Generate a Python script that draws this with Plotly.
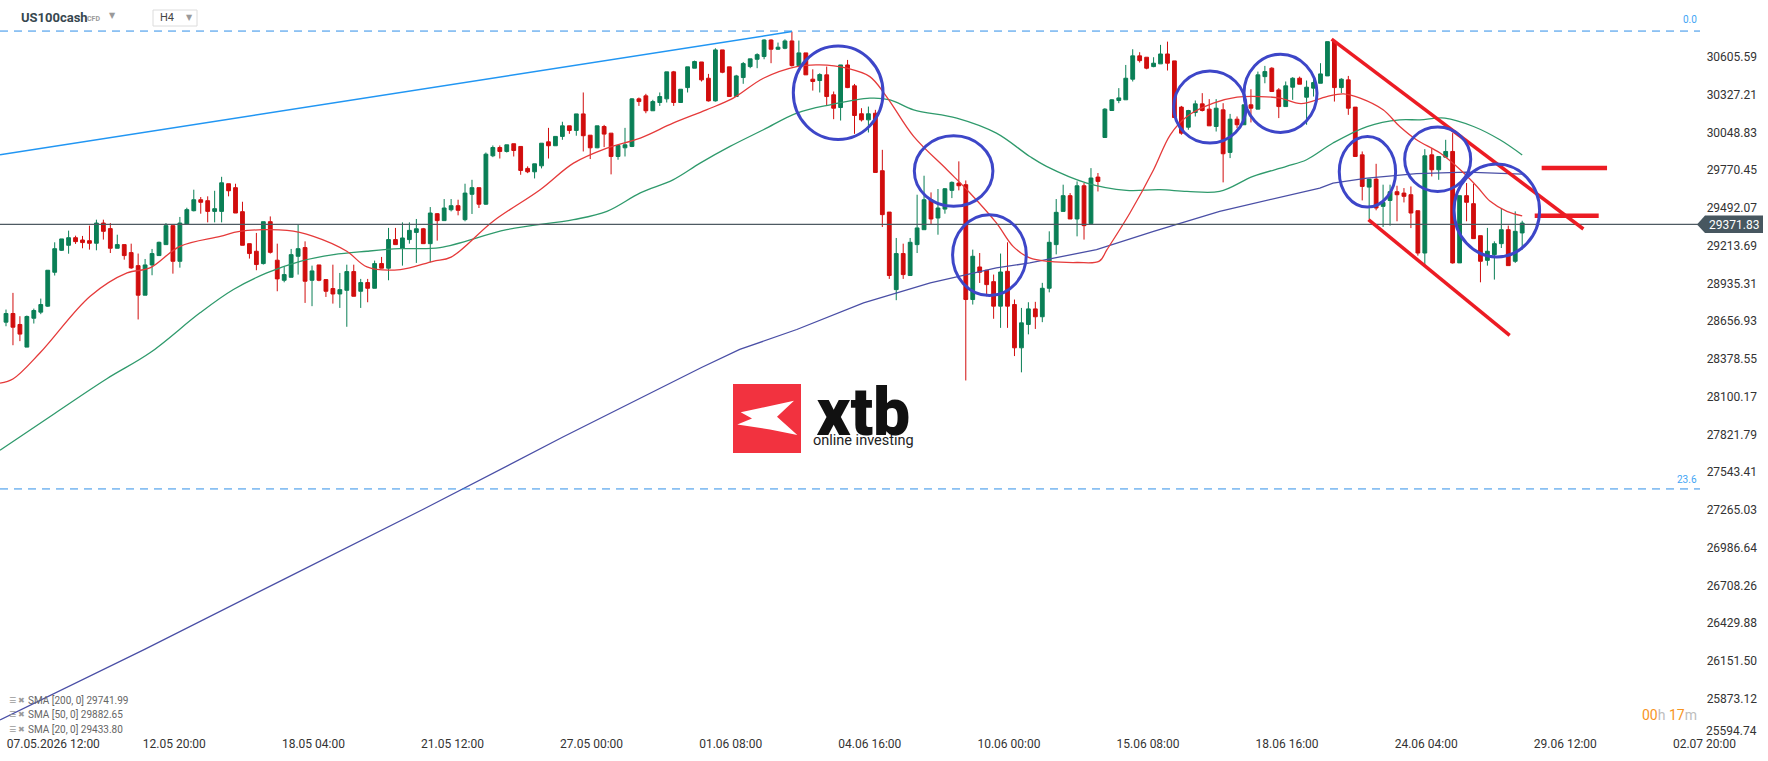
import plotly.graph_objects as go

W, H = 1768, 761

def px(x):
    return x / W

def py(y):
    return 1 - y / H

# ---------------- data ----------------
opens = [28650, 28714, 28633, 28466, 28679, 28724, 28768, 29018, 29180, 29217,
         29273, 29256, 29251, 29232, 29381, 29340, 29195, 29222, 29163, 29067,
         28849, 29072, 29141, 29222, 29362, 29099, 29374, 29472, 29553, 29546,
         29467, 29467, 29671, 29642, 29465, 29229, 29173, 29082, 29391, 29107,
         28959, 28981, 29136, 29200, 28959, 29072, 28964, 28898, 28858, 28885,
         29023, 28878, 28942, 28900, 29082, 29048, 29259, 29197, 29259, 29312,
         29339, 29229, 29450, 29399, 29479, 29509, 29406, 29593, 29642, 29520,
         29877, 29938, 29909, 29966, 29946, 29784, 29759, 29803, 29980, 29951,
         30020, 30098, 30064, 30186, 30029, 29936, 30093, 30044, 29872, 29936,
         29946, 30297, 30319, 30209, 30270, 30297, 30496, 30270, 30380, 30523,
         30569, 30449, 30282, 30658, 30533, 30314, 30454, 30535, 30589, 30609,
         30731, 30663, 30670, 30724, 30542, 30636, 30442, 30432, 30474, 30327,
         30233, 30547, 30393, 30187, 30142, 30191, 29767, 29462, 28890, 29156,
         28994, 29222, 29332, 29553, 29418, 29484, 29622, 29676, 29664, 28817,
         29057, 29033, 28949, 28768, 29025, 28780, 28461, 28633, 28748, 28690,
         28900, 29222, 29467, 29583, 29411, 29656, 29377, 29720, 30012, 30211,
         30285, 30290, 30442, 30614, 30604, 30535, 30555, 30628, 30577, 30236,
         30088, 30196, 30260, 30221, 30093, 30216, 29902, 30147, 30106, 30253,
         30221, 30461, 30523, 30363, 30240, 30383, 30449, 30309, 30376, 30412,
         30466, 30719, 30380, 30437, 30236, 29884, 29646, 29705, 29504, 29548,
         29612, 29602, 29590, 29472, 29160, 29884, 29774, 29867, 29909, 29087,
         29583, 29524, 29288, 29106, 29148, 29229, 29332, 29099, 29308]
highs = [28743, 28866, 28694, 28699, 28750, 28824, 29033, 29239, 29264, 29325,
         29288, 29286, 29362, 29406, 29406, 29381, 29295, 29222, 29229, 29156,
         29116, 29190, 29244, 29381, 29362, 29426, 29494, 29627, 29573, 29578,
         29619, 29722, 29671, 29671, 29538, 29229, 29308, 29391, 29430, 29229,
         29062, 29190, 29369, 29246, 29067, 29072, 28964, 29074, 29013, 29074,
         29074, 28969, 28969, 29104, 29131, 29345, 29345, 29386, 29386, 29411,
         29345, 29499, 29455, 29558, 29558, 29553, 29671, 29700, 29642, 29901,
         29953, 29953, 29958, 29966, 29946, 29799, 29818, 29970, 30083, 30020,
         30128, 30098, 30186, 30344, 30029, 30098, 30105, 30044, 29958, 30083,
         30302, 30307, 30334, 30290, 30344, 30496, 30503, 30368, 30533, 30579,
         30569, 30481, 30670, 30658, 30533, 30474, 30569, 30592, 30633, 30736,
         30736, 30712, 30736, 30793, 30727, 30636, 30515, 30486, 30535, 30351,
         30547, 30584, 30407, 30228, 30240, 30216, 29921, 29462, 29271, 29229,
         29271, 29590, 29730, 29607, 29632, 29639, 29688, 29836, 29695, 29185,
         29160, 29033, 29001, 29156, 29239, 28817, 28755, 28797, 28800, 28940,
         29320, 29558, 29664, 29602, 29688, 29676, 29786, 29750, 30228, 30295,
         30376, 30547, 30663, 30641, 30604, 30604, 30695, 30719, 30577, 30245,
         30216, 30285, 30339, 30295, 30295, 30265, 30186, 30167, 30253, 30368,
         30498, 30540, 30530, 30376, 30425, 30457, 30461, 30432, 30461, 30560,
         30719, 30731, 30449, 30466, 30236, 29909, 29705, 29818, 29664, 29664,
         29656, 29639, 29651, 29472, 29926, 29933, 29872, 29995, 30044, 29583,
         29676, 29671, 29288, 29345, 29246, 29492, 29362, 29467, 29398]
lows = [28620, 28480, 28510, 28466, 28640, 28709, 28763, 28994, 29175, 29155,
        29227, 29195, 29185, 29180, 29259, 29160, 29195, 29111, 29043, 28670,
        28849, 28996, 29141, 29222, 29008, 29052, 29374, 29467, 29450, 29386,
        29386, 29386, 29578, 29455, 29217, 29119, 29033, 29075, 29156, 28878,
        28944, 28981, 29001, 28792, 28768, 28952, 28836, 28787, 28755, 28616,
        28841, 28755, 28797, 28900, 29048, 28959, 29222, 29067, 29229, 29087,
        29229, 29092, 29251, 29399, 29467, 29438, 29394, 29448, 29492, 29515,
        29867, 29857, 29901, 29872, 29737, 29749, 29710, 29784, 29857, 29951,
        29995, 30039, 30025, 29909, 29853, 29933, 29941, 29740, 29848, 29872,
        29941, 30245, 30191, 30209, 30245, 30270, 30245, 30270, 30344, 30523,
        30425, 30277, 30277, 30486, 30314, 30314, 30408, 30523, 30523, 30589,
        30560, 30658, 30663, 30535, 30535, 30474, 30358, 30344, 30245, 30147,
        30137, 30376, 30039, 30130, 30049, 29754, 29352, 28969, 28812, 28969,
        28994, 29160, 29332, 29369, 29295, 29450, 29565, 29622, 28220, 28780,
        28939, 28841, 28675, 28608, 28608, 28400, 28280, 28560, 28600, 28650,
        28870, 29150, 29467, 29411, 29283, 29259, 29377, 29614, 30012, 30211,
        30265, 30290, 30425, 30565, 30515, 30530, 30555, 30506, 30159, 30032,
        30069, 30167, 30204, 30098, 30056, 29681, 29860, 30081, 30106, 30123,
        30221, 30412, 30351, 30155, 30240, 30290, 30405, 30106, 30314, 30412,
        30466, 30277, 30339, 30179, 29872, 29548, 29411, 29475, 29352, 29362,
        29394, 29533, 29344, 29141, 29067, 29725, 29700, 29867, 29082, 29087,
        29394, 29266, 28944, 29067, 28964, 29197, 29067, 29087, 29185]
closes = [28714, 28613, 28562, 28692, 28736, 28780, 29033, 29192, 29264, 29273,
          29244, 29237, 29232, 29381, 29320, 29195, 29222, 29141, 29050, 28849,
          29072, 29156, 29239, 29362, 29099, 29381, 29480, 29553, 29534, 29467,
          29487, 29678, 29619, 29455, 29217, 29156, 29075, 29391, 29165, 28969,
          29001, 29148, 29192, 28952, 29028, 28959, 28878, 28858, 28890, 29023,
          28841, 28942, 28900, 29082, 29048, 29259, 29222, 29271, 29327, 29339,
          29229, 29455, 29399, 29492, 29509, 29475, 29602, 29642, 29520, 29889,
          29938, 29909, 29958, 29916, 29769, 29759, 29818, 29970, 29951, 30020,
          30098, 30064, 30186, 30025, 29936, 30098, 30037, 29872, 29953, 29958,
          30297, 30277, 30209, 30277, 30314, 30496, 30270, 30368, 30533, 30572,
          30437, 30282, 30658, 30493, 30314, 30466, 30557, 30592, 30623, 30731,
          30663, 30678, 30724, 30542, 30636, 30474, 30425, 30476, 30314, 30228,
          30547, 30380, 30174, 30142, 30187, 29754, 29443, 28994, 29156, 29001,
          29239, 29345, 29553, 29411, 29492, 29634, 29681, 29656, 28817, 29136,
          29018, 28927, 28768, 29020, 28768, 28461, 28645, 28748, 28690, 28900,
          29239, 29460, 29583, 29411, 29656, 29362, 29713, 29688, 30221, 30290,
          30304, 30449, 30614, 30579, 30523, 30560, 30628, 30560, 30159, 30044,
          30211, 30260, 30211, 30098, 30228, 29892, 30147, 30106, 30253, 30228,
          30474, 30498, 30351, 30240, 30393, 30449, 30405, 30383, 30417, 30481,
          30719, 30380, 30442, 30228, 29872, 29651, 29705, 29492, 29533, 29612,
          29590, 29578, 29455, 29160, 29877, 29774, 29872, 29909, 29087, 29583,
          29534, 29266, 29099, 29173, 29229, 29332, 29067, 29320, 29381]
bar_idx = list(range(len(opens)))

sma20_idx = [-0.86, 1.05, 4.9, 12.1, 17.4, 20.7, 25, 30.8, 33.6, 40.4, 44.2, 49, 51.9,
             56.7, 61.4, 64, 70, 76.8, 81.6, 86.4, 91.2, 95.9, 100.7, 104.5, 108.9,
             113.7, 117, 120.9, 124.2, 126.6, 130.5, 135.3, 138.6, 142.4, 144.8,
             147.2, 150, 154, 157.2, 158.3, 161.6, 165, 167.4, 169.8, 173.6, 177,
             180.3, 183.2, 186.2, 189.9, 192.3, 194.7, 198, 200.4, 202.8, 206.2,
             209.1, 211.5, 213.4, 215.8, 218]
sma20_val = [28200, 28233, 28424, 28841, 29013, 29050, 29209, 29283, 29320, 29327,
             29283, 29173, 29058, 29038, 29099, 29130, 29393, 29627, 29823, 29934,
             30008, 30118, 30216, 30300, 30449, 30535, 30547, 30523, 30461, 30314,
             30020, 29774, 29603, 29382, 29209, 29124, 29098, 29090, 29100, 29185,
             29455, 29774, 30032, 30167, 30265, 30309, 30314, 30302, 30262, 30314,
             30334, 30302, 30216, 30093, 29995, 29897, 29774, 29651, 29541, 29467,
             29434]
sma50_idx = [-0.86, 7, 14.5, 20.7, 27.9, 32.7, 37.5, 42.3, 47.1, 51.9, 56.6, 62.4,
             72, 81.6, 86.4, 91.2, 95.9, 99.8, 104.1, 108.9, 113.7, 118.5, 124.2,
             127.1, 130.5, 136.7, 142.4, 147.2, 149.6, 155.4, 161.1, 165.9, 169.8,
             174.5, 179.3, 184.1, 187, 190.8, 195.7, 200.4, 203.3, 206.9, 211,
             214.8, 218]
sma50_val = [27705, 27977, 28233, 28424, 28719, 28891, 29013, 29099, 29148, 29173,
             29192, 29200, 29332, 29406, 29467, 29603, 29700, 29823, 29946, 30069,
             30192, 30253, 30302, 30290, 30216, 30155, 30044, 29872, 29799, 29676,
             29622, 29627, 29614, 29614, 29725, 29799, 29848, 29971, 30093, 30142,
             30142, 30155, 30093, 29995, 29883]
sma200_idx = [-0.86, 20, 40, 60, 80, 100, 105.5, 113.7, 123.3, 132.9, 142.4, 147.2,
              156.8, 165, 174.5, 184.1, 188.9, 190.8, 195.7, 202.8, 210, 218]
sma200_val = [25717, 26239, 26755, 27270, 27801, 28316, 28449, 28596, 28793, 28940,
              29050, 29087, 29185, 29320, 29467, 29578, 29639, 29676, 29713, 29745,
              29757, 29742]

y_tick_labels = ["25594.74", "25873.12", "26151.50", "26429.88", "26708.26", "26986.64",
                 "27265.03", "27543.41", "27821.79", "28100.17", "28378.55", "28656.93",
                 "28935.31", "29213.69", "29492.07", "29770.45", "30048.83", "30327.21",
                 "30605.59"]
x_tick_pos = [6.8, 24.2, 44.2, 64.2, 84.2, 104.2, 124.2, 144.2, 164.2, 184.2, 204.2,
              224.2, 244.2]
x_tick_labels = ["07.05.2026 12:00", "12.05 20:00", "18.05 04:00", "21.05 12:00",
                 "27.05 00:00", "01.06 08:00", "04.06 16:00", "10.06 00:00",
                 "15.06 08:00", "18.06 16:00", "24.06 04:00", "29.06 12:00",
                 "02.07 20:00"]

last_price = 29371.83
fib_levels = [30797, 27420]
fib_labels = ["0.0", "23.6"]
sma_legend = ["SMA [200, 0] 29741.99", "SMA [50, 0] 29882.65", "SMA [20, 0] 29433.80"]

# ---------------- styling ----------------
GREEN = "#0a7f56"
RED = "#d10d0d"
FONT = "Roboto"
X_RANGE = [-6 / 6.955, (W - 6) / 6.955]
Y_TOP = 31026.0
Y_SCALE = 7.375
Y_RANGE = [Y_TOP - Y_SCALE * H, Y_TOP]

fig = go.Figure()
fig.add_trace(go.Scatter(x=sma200_idx, y=sma200_val, mode="lines",
                         line=dict(color="#4a4fa6", width=1.3), hoverinfo="skip", showlegend=False))
fig.add_trace(go.Scatter(x=sma50_idx, y=sma50_val, mode="lines", line_shape="spline",
                         line=dict(color="#2f9a6c", width=1.3), hoverinfo="skip", showlegend=False))
fig.add_trace(go.Scatter(x=sma20_idx, y=sma20_val, mode="lines", line_shape="spline",
                         line=dict(color="#e53a3a", width=1.3), hoverinfo="skip", showlegend=False))
fig.add_trace(go.Candlestick(
    x=bar_idx, open=opens, high=highs, low=lows, close=closes,
    increasing=dict(line=dict(color=GREEN, width=1), fillcolor=GREEN),
    decreasing=dict(line=dict(color=RED, width=1), fillcolor=RED),
    whiskerwidth=0, showlegend=False, hoverinfo="skip"))

shapes = []
# fibonacci dashed lines
for lvl in fib_levels:
    shapes.append(dict(type="line", xref="paper", yref="y", x0=0, x1=px(1700), y0=lvl, y1=lvl,
                       line=dict(color="#2f8fe8", width=1, dash="8px,6px")))
# current price line
shapes.append(dict(type="line", xref="paper", yref="y", x0=0, x1=px(1700), y0=last_price,
                   y1=last_price, line=dict(color="#4e5a62", width=1.3)))
# blue trend line to the top
shapes.append(dict(type="line", xref="x", yref="y", x0=X_RANGE[0], y0=29885, x1=113, y1=30793,
                   line=dict(color="#2196f3", width=1.5)))
# red channel
shapes.append(dict(type="line", xref="x", yref="y", x0=190.6, y0=30737, x1=226.8, y1=29337,
                   line=dict(color="#ec1c24", width=3.5)))
shapes.append(dict(type="line", xref="x", yref="y", x0=195.9, y0=29406, x1=216.2, y1=28552,
                   line=dict(color="#ec1c24", width=3.5)))
shapes.append(dict(type="line", xref="x", yref="y", x0=220.8, y0=29787, x1=230.2, y1=29787,
                   line=dict(color="#ec1c24", width=4.5)))
shapes.append(dict(type="line", xref="x", yref="y", x0=219.8, y0=29435, x1=229.0, y1=29435,
                   line=dict(color="#ec1c24", width=4.5)))
# blue circles
circles = [(113.2, 126.1, 29998, 30687), (130.6, 141.9, 29504, 30025),
           (136.1, 146.7, 28846, 29443), (167.9, 178.3, 29971, 30503),
           (178.0, 188.5, 30049, 30626), (191.7, 199.8, 29499, 30019),
           (201.1, 210.6, 29614, 30089), (208.2, 220.5, 29131, 29816)]
for x0, x1, y0, y1 in circles:
    shapes.append(dict(type="circle", xref="x", yref="y", x0=x0, x1=x1, y0=y0, y1=y1,
                       line=dict(color="#3d46c8", width=3)))

# price tag
tag = [(1697, 224.5), (1705, 215.5), (1763, 215.5), (1763, 233), (1705, 233)]
path = "M " + " L ".join(f"{px(a):.5f},{py(b):.5f}" for a, b in tag) + " Z"
shapes.append(dict(type="path", xref="paper", yref="paper", path=path,
                   fillcolor="#475760", line=dict(width=0)))
# H4 box
shapes.append(dict(type="rect", xref="paper", yref="paper", x0=px(153), x1=px(197), y0=py(10),
                   y1=py(26), line=dict(color="#dcdcdc", width=1), fillcolor="white"))
# xtb logo
shapes.append(dict(type="rect", xref="paper", yref="paper", x0=px(733), x1=px(801), y0=py(384),
                   y1=py(453), line=dict(width=0), fillcolor="#f2323f"))
xshape = [(740.7, 412.2), (770, 406.0), (794, 400.7), (777.0, 416.7), (797.3, 435),
          (770, 429.5), (737.3, 424.5), (752.0, 418.5)]
path = "M " + " L ".join(f"{px(a):.5f},{py(b):.5f}" for a, b in xshape) + " Z"
shapes.append(dict(type="path", xref="paper", yref="paper", path=path, fillcolor="white",
                   line=dict(width=0)))

ann = []
def text(x, y, s, size=12, color="#333", anchor="left", weight="normal", family=FONT, yanchor="middle"):
    ann.append(dict(x=px(x), y=py(y), xref="paper", yref="paper", text=s, showarrow=False,
                    xanchor=anchor, yanchor=yanchor, borderpad=0,
                    font=dict(size=size, color=color, family=family, weight=weight)))

text(20, 18, "US100cash", 13, "#37474f", weight="bold")
text(86, 19, "CFD", 7, "#9a9a9a", weight="bold")
text(113, 16, "▼", 8, "#9a9a9a", anchor="center", family="DejaVu Sans")
text(159, 18, "H4", 11, "#444")
text(189, 17, "▼", 8, "#9a9a9a", anchor="center", family="DejaVu Sans")
text(1698, 20, fib_labels[0], 10, "#42a5f5", anchor="right")
text(1698, 479, fib_labels[1], 10, "#42a5f5", anchor="right")
text(1734, 224.5, f"{last_price:.2f}", 12, "white", anchor="center")
text(1758, 731, y_tick_labels[0], 12, "#333", anchor="right")
text(1698, 715, "<span style='color:#f7941d'>00</span><span style='color:#bdbdbd'>h </span>"
     "<span style='color:#f7941d'>17</span><span style='color:#bdbdbd'>m</span>", 14, "#f7941d",
     anchor="right")
for k, s in enumerate(sma_legend):
    yy = 700 + 14.5 * k
    text(8, yy, "☰", 8, "#9a9a9a", family="DejaVu Sans")
    text(17, yy, "✖", 8, "#9a9a9a", family="DejaVu Sans")
    text(27, yy, s, 10, "#666")
text(863, 452, "<span style='font-size:66px;font-weight:900;color:#111'>xtb</span><br>"
     "<span style='font-size:14.5px;color:#222'>online investing</span>", 7.6, "#222",
     anchor="center", yanchor="bottom")

fig.update_layout(
    width=W, height=H, margin=dict(l=0, r=0, t=0, b=0),
    paper_bgcolor="white", plot_bgcolor="white", boxgap=0.22,
    shapes=shapes, annotations=ann, showlegend=False,
    font=dict(family=FONT, size=12, color="#333"),
    xaxis=dict(range=X_RANGE, showgrid=False, zeroline=False, showline=False, ticks="",
               tickvals=x_tick_pos, ticktext=x_tick_labels, ticklabelposition="inside",
               ticklabelstandoff=8, tickfont=dict(size=12, color="#333", family=FONT),
               rangeslider=dict(visible=False), fixedrange=True),
    yaxis=dict(range=Y_RANGE, side="right", showgrid=False, zeroline=False, showline=False,
               ticks="", tickvals=[float(v) for v in y_tick_labels[1:]],
               ticktext=y_tick_labels[1:], ticklabelposition="inside", ticklabelstandoff=8,
               tickfont=dict(size=12, color="#333", family=FONT), fixedrange=True),
)

fig.write_html("out.html")
